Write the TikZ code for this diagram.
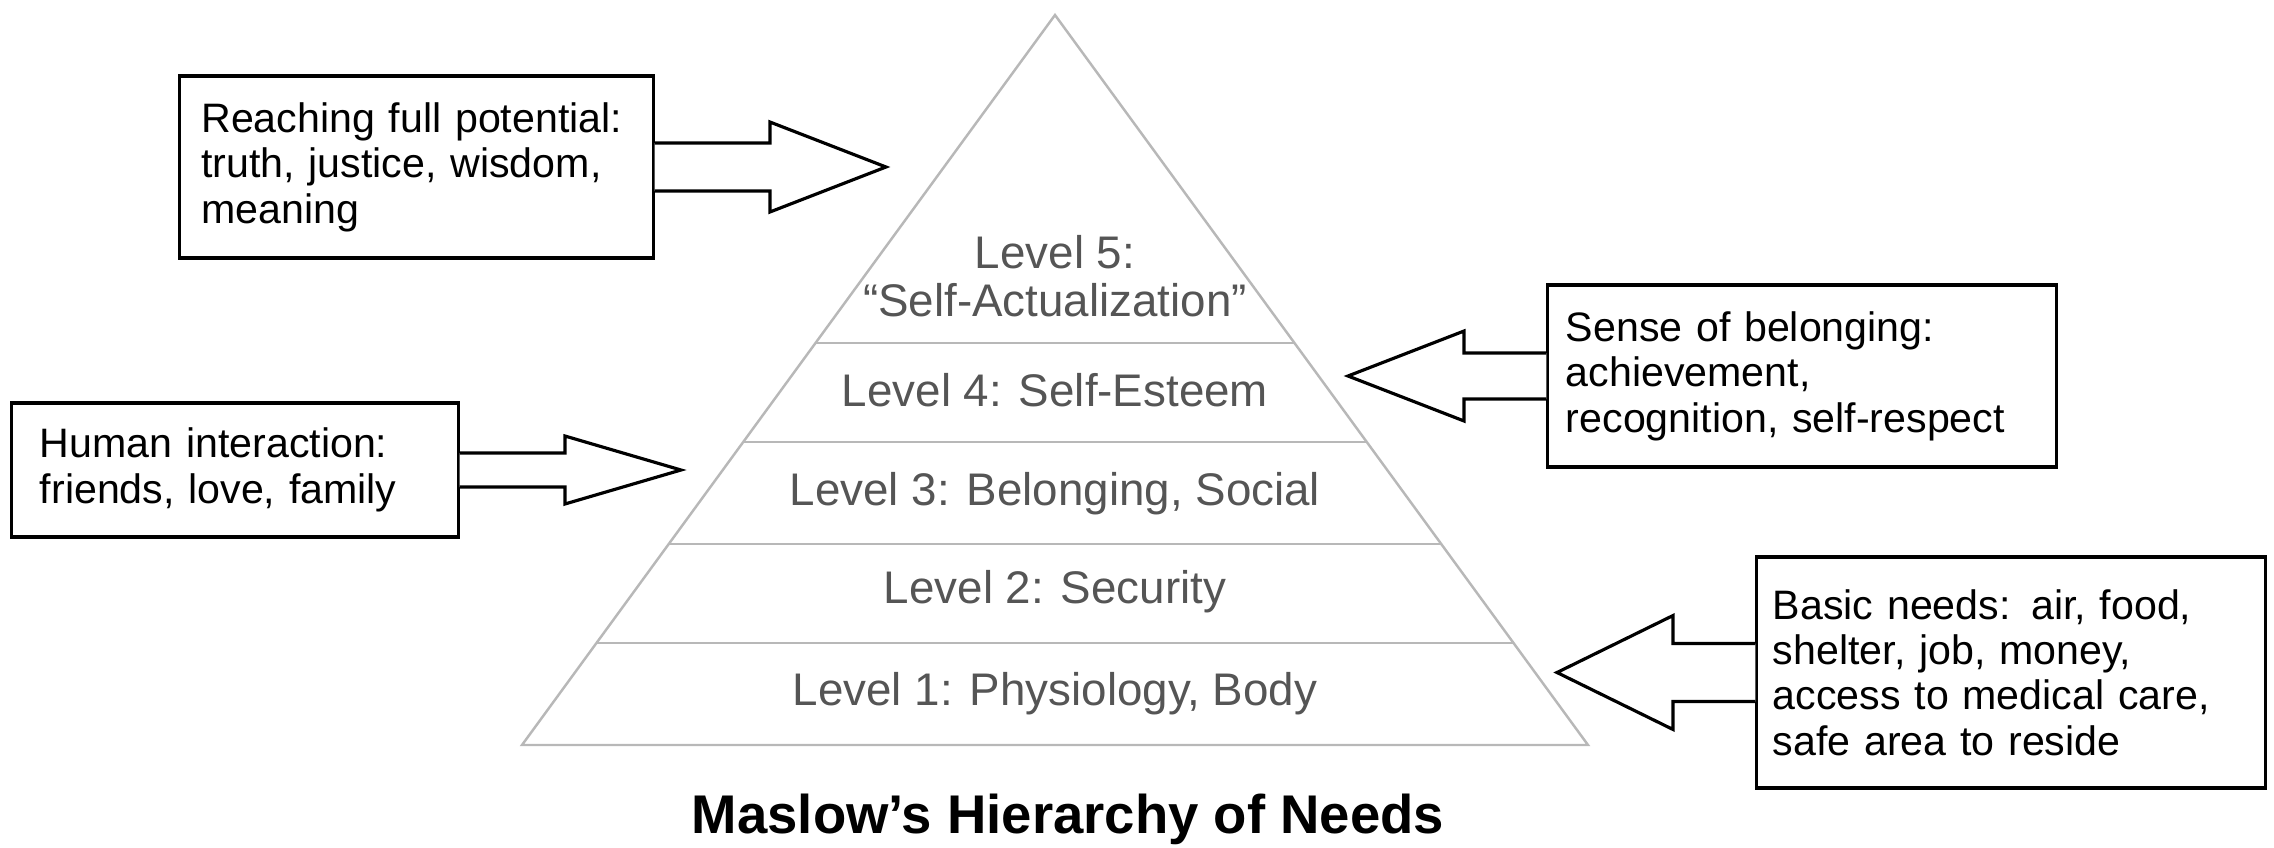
\documentclass[tikz,border=0pt]{standalone}
\usepackage{fontspec}
\setmainfont{Liberation Sans}
\usetikzlibrary{calc}

\definecolor{levelgray}{HTML}{555555}
\definecolor{edgegray}{HTML}{B8B8B8}

\tikzset{
  needbox/.style={draw, line width=0.9pt, fill=white, inner sep=0pt, align=left,
                  font=\fontsize{11.7}{12.9}\selectfont},
  levellabel/.style={text=levelgray, align=center, font=\fontsize{13}{13.6}\selectfont},
  pyramidline/.style={draw=edgegray, line width=0.7pt},
  fatarrow/.style={draw, line width=0.9pt, fill=white, line join=miter},
}

% #1 box side, #2 tip, #3 half shaft, #4 half head
\newcommand{\needarrow}[4]{%
  \draw[fatarrow] ($(#1)+(0,#3)$) -- ($(#2)!1.16cm!(#1)+(0,#3)$)
    -- ($(#2)!1.16cm!(#1)+(0,#4)$) -- (#2)
    -- ($(#2)!1.16cm!(#1)+(0,-#4)$) -- ($(#2)!1.16cm!(#1)+(0,-#3)$)
    -- ($(#1)+(0,-#3)$);}

\begin{document}
\begin{tikzpicture}[x=0.01cm, y=-0.01cm]
    \useasboundingbox (0,0) rectangle (2274,848);

    \coordinate (apex) at (1055,15);
    \coordinate (bl) at (522,745);
    \coordinate (br) at (1588,745);
    \draw[pyramidline] (apex) -- (bl) -- (br) -- cycle;
    \foreach \t in {0.449,0.585,0.725,0.860}
      \draw[pyramidline] ($(apex)!\t!(bl)$) -- ($(apex)!\t!(br)$);

    \node[levellabel] (lvl5) at (1055,276) {Level 5:\\“Self-Actualization”};
    \node[levellabel] (lvl4) at (1055,390) {Level 4: Self-Esteem};
    \node[levellabel] (lvl3) at (1055,494) {Level 3: Belonging, Social};
    \node[levellabel] (lvl2) at (1055,592) {Level 2: Security};
    \node[levellabel] (lvl1) at (1055,694) {Level 1: Physiology, Body};

    \node[needbox, minimum width=4.73cm, minimum height=1.82cm, text width=4.3cm]
      (reach) at (416.5,167) {Reaching full potential:\\truth, justice, wisdom,\\meaning};
    \node[needbox, minimum width=4.46cm, minimum height=1.34cm, text width=3.9cm]
      (human) at (235,470) {Human interaction:\\friends, love, family};
    \node[needbox, minimum width=5.08cm, minimum height=1.82cm, text width=4.72cm]
      (sense) at (1802,376) {Sense of belonging:\\achievement,\\recognition, self-respect};
    \node[needbox, minimum width=5.08cm, minimum height=2.31cm, text width=4.76cm]
      (basic) at (2011,672.5) {Basic needs: air, food,\\shelter, job, money,\\access to medical care,\\safe area to reside};

    \coordinate (tipreach) at (886,167);
    \coordinate (tiphuman) at (681,470);
    \coordinate (tipsense) at (1348,376);
    \coordinate (tipbasic) at (1557,672.5);

    \needarrow{reach.east}{tipreach}{24}{45}
    \needarrow{human.east}{tiphuman}{17}{34}
    \needarrow{sense.west}{tipsense}{23}{45}
    \needarrow{basic.west}{tipbasic}{29}{57}

    \node[font=\bfseries\fontsize{15.5}{18}\selectfont] (title) at (1068,819)
      {Maslow’s Hierarchy of Needs};
  \end{tikzpicture}
\end{document}
